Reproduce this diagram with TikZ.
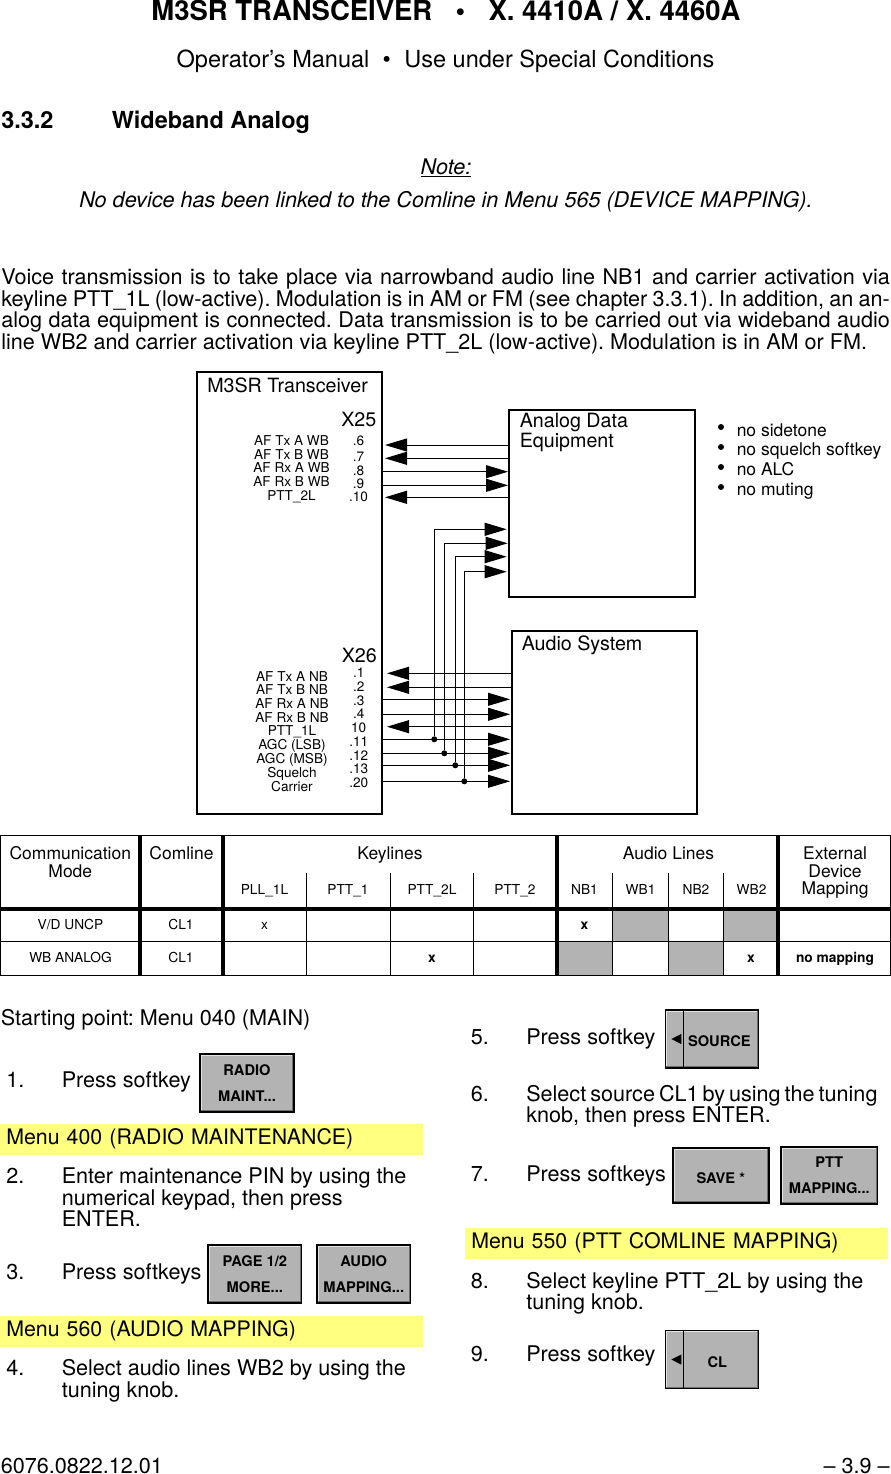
\documentclass[tikz,border=0pt]{standalone}
\usepackage{fontspec}
\setmainfont{TeX Gyre Heros}
\frenchspacing
\usetikzlibrary{arrows.meta}

\definecolor{cellgray}{HTML}{B3B3B3}
\definecolor{menuyellow}{HTML}{FFFF80}
\definecolor{bevellight}{HTML}{E4E4E4}
\definecolor{beveldark}{HTML}{6E6E6E}

\newcommand{\softbevel}{
  \draw[bevellight, line width=2.6pt]
    (path picture bounding box.south west) -- (path picture bounding box.north west)
    -- (path picture bounding box.north east);
  \draw[beveldark, line width=2.6pt]
    (path picture bounding box.north east) -- (path picture bounding box.south east)
    -- (path picture bounding box.south west);
}

\tikzset{
  txt/.style={anchor=base west, inner sep=0pt, font=\fontsize{16.2}{16.2}\selectfont},
  boxtxt/.style={txt, font=\fontsize{14.75}{14.75}\selectfont},
  bullettxt/.style={txt, font=\fontsize{13.1}{13.1}\selectfont},
  pintxt/.style={anchor=base, inner sep=0pt, font=\fontsize{10.2}{10.2}\selectfont},
  headcell/.style={anchor=base, inner sep=0pt, font=\fontsize{13.1}{13.1}\selectfont},
  cell/.style={anchor=base, inner sep=0pt, font=\fontsize{10.3}{10.3}\selectfont},
  boldcell/.style={cell, font=\bfseries\fontsize{10.3}{10.3}\selectfont},
  unit/.style={draw, line width=1.5pt, minimum width=139pt, inner sep=0pt},
  wire/.style={line width=.75pt},
  dot/.style={circle, fill, inner sep=0pt, minimum size=4.5pt},
  bulletdot/.style={circle, fill, inner sep=0pt, minimum size=4.5pt},
  menubar/.style={anchor=west, fill=menuyellow, inner sep=0pt, minimum height=23.2pt,
    text width=308pt, align=left, font=\fontsize{16}{16}\selectfont,
    minimum width=317pt, text depth=4pt},
  softkey/.style={draw=black, line width=1.1pt, fill=cellgray, inner sep=0pt,
    minimum width=70pt, minimum height=43.5pt, align=center,
    font=\bfseries\fontsize{11}{19.5}\selectfont,
    execute at begin node={\rule{0pt}{11.5pt}},
    path picture={\softbevel}},
  softarrow/.style={softkey, line width=.9pt,
    path picture={\softbevel
      \draw[black, line width=.8pt]
        ([xshift=13.5pt]path picture bounding box.north west)
        -- ([xshift=13.5pt]path picture bounding box.south west);
      \fill[black] ([xshift=4.5pt]path picture bounding box.west)
        -- ([xshift=12pt,yshift=3.8pt]path picture bounding box.west)
        -- ([xshift=12pt,yshift=-3.8pt]path picture bounding box.west) -- cycle;
    }},
}

\begin{document}
\begin{tikzpicture}[x=.75pt, y=-.75pt, >={Triangle[length=16.5pt,width=9.75pt]}]
\useasboundingbox (0,0) rectangle (891,1474);

% Page head
\node[anchor=base, inner sep=0pt, font=\bfseries\fontsize{20.6}{20.6}\selectfont] (title) at (446,20)
  {M3SR TRANSCEIVER\hspace{.85em}•\hspace{.85em}X. 4410A / X. 4460A};
\node[anchor=base, inner sep=0pt, font=\fontsize{17.65}{17.65}\selectfont] (subtitle) at (445.5,67)
  {Operator’s Manual\hspace{10pt}•\hspace{10pt}Use under Special Conditions};
\node[txt, font=\bfseries\fontsize{17.6}{17.6}\selectfont] (secnum) at (1,128) {3.3.2};
\node[txt, font=\bfseries\fontsize{17.6}{17.6}\selectfont] (sectitle) at (111.5,128) {Wideband Analog};
\node[anchor=base, inner sep=0pt, font=\itshape\fontsize{16.2}{16.2}\selectfont] (note) at (446,174) {\underline{Note:}};
\node[anchor=base, inner sep=0pt, font=\itshape\fontsize{16.2}{16.2}\selectfont] (notetext) at (446,207)
  {No device has been linked to the Comline in Menu 565 (DEVICE MAPPING).};

% Intro paragraph
\node[txt] (introa) at (1,284) {\makebox[666.5pt][s]{Voice transmission is to take place via narrowband audio line NB1 and carrier activation via}};
\node[txt] (introb) at (1,306) {\makebox[666.5pt][s]{keyline PTT\_1L (low-active). Modulation is in AM or FM (see chapter 3.3.1). In addition, an an-}};
\node[txt] (introc) at (1,327) {\makebox[666.5pt][s]{alog data equipment is connected. Data transmission is to be carried out via wideband audio}};
\node[txt] (introd) at (1,349) {line WB2 and carrier activation via keyline PTT\_2L (low-active). Modulation is in AM or FM.};

% Units of the block diagram
\node[unit, minimum height=331.5pt] (radio) at (289.2,593.2) {};
\node[unit, minimum width=139.5pt, minimum height=140pt] (ade) at (602,503.5) {};
\node[unit, minimum height=137.5pt] (audio) at (604.3,722.5) {};
\node[boxtxt] (radiolabel) at (207,392) {M3SR Transceiver};
\node[boxtxt] (adelabela) at (519.5,427) {Analog Data};
\node[boxtxt] (adelabelb) at (519.5,447) {Equipment};
\node[boxtxt] (audiolabel) at (521.5,650) {Audio System};
\node[boxtxt] (xa) at (341,426) {X25};
\node[boxtxt] (xb) at (341.5,662) {X26};

% Signals at X25
\node[pintxt] at (291.5,445) {AF Tx A WB};
\node[pintxt] at (291.5,459) {AF Tx B WB};
\node[pintxt] at (291.5,472) {AF Rx A WB};
\node[pintxt] at (291.5,486) {AF Rx B WB};
\node[pintxt] at (291.5,500) {PTT\_2L};
\node[pintxt] at (358.5,445) {.6};
\node[pintxt] at (358.5,461) {.7};
\node[pintxt] at (358.5,475) {.8};
\node[pintxt] at (358.5,488) {.9};
\node[pintxt] at (358.5,501) {.10};

% Signals at X26
\node[pintxt] at (292,681) {AF Tx A NB};
\node[pintxt] at (292,694) {AF Tx B NB};
\node[pintxt] at (292,708) {AF Rx A NB};
\node[pintxt] at (292,722) {AF Rx B NB};
\node[pintxt] at (292,735) {PTT\_1L};
\node[pintxt] at (292,749) {AGC (LSB)};
\node[pintxt] at (292,763) {AGC (MSB)};
\node[pintxt] at (292,777) {Squelch};
\node[pintxt] at (292,791) {Carrier};
\node[pintxt] at (358.7,677) {.1};
\node[pintxt] at (358.7,691) {.2};
\node[pintxt] at (358.7,705) {.3};
\node[pintxt] at (358.7,718) {.4};
\node[pintxt] at (358.7,732) {10};
\node[pintxt] at (358.7,746) {.11};
\node[pintxt] at (358.7,760) {.12};
\node[pintxt] at (358.7,773) {.13};
\node[pintxt] at (358.7,787) {.20};

% Wires between X25 and the data equipment
\coordinate (pa) at (385,445);   \coordinate (qa) at (509,445);
\coordinate (pb) at (385,458.3); \coordinate (qb) at (509,458.3);
\coordinate (pc) at (382,471.7); \coordinate (qc) at (508,471.7);
\coordinate (pd) at (382,485.3); \coordinate (qd) at (508,485.3);
\coordinate (pe) at (385,497.3); \coordinate (qe) at (509,497.3);
\draw[wire,->] (qa) -- (pa);
\draw[wire,->] (qb) -- (pb);
\draw[wire,->] (pc) -- (qc);
\draw[wire,->] (pd) -- (qd);
\draw[wire,->] (qe) -- (pe);

% Wires between X26 and the audio system
\coordinate (ra) at (387,673.3); \coordinate (sa) at (511,673.3);
\coordinate (rb) at (387,687.3); \coordinate (sb) at (511,687.3);
\coordinate (rc) at (381,699.3); \coordinate (sc) at (510,699.3);
\coordinate (rd) at (382,714.3); \coordinate (sd) at (510,714.3);
\coordinate (re) at (387,726.7); \coordinate (se) at (511,726.7);
\coordinate (rf) at (382,739.3); \coordinate (sf) at (510,739.3);
\coordinate (rg) at (382,753.3); \coordinate (sg) at (510,753.3);
\coordinate (rh) at (382,765.3); \coordinate (sh) at (510,765.3);
\coordinate (ri) at (382,781.3); \coordinate (si) at (510,781.3);
\draw[wire,->] (sa) -- (ra);
\draw[wire,->] (sb) -- (rb);
\draw[wire,->] (rc) -- (sc);
\draw[wire,->] (rd) -- (sd);
\draw[wire,->] (se) -- (re);
\draw[wire,->] (rf) -- (sf);
\draw[wire,->] (rg) -- (sg);
\draw[wire,->] (rh) -- (sh);
\draw[wire,->] (ri) -- (si);

% AGC, squelch and carrier also go up to the data equipment
\node[dot] (ja) at (434.3,739.3) {};
\node[dot] (jb) at (444.3,753.3) {};
\node[dot] (jc) at (455.3,765.3) {};
\node[dot] (jd) at (464.3,781.3) {};
\coordinate (ta) at (506.7,529.3);
\coordinate (tb) at (507.7,543.3);
\coordinate (tc) at (506.7,556.7);
\coordinate (td) at (506.7,571.7);
\draw[wire,->] (ja) |- (ta);
\draw[wire,->] (jb) |- (tb);
\draw[wire,->] (jc) |- (tc);
\draw[wire,->] (jd) |- (td);

% Notes beside the data equipment
\node[bulletdot] (ba) at (721,427) {};
\node[bulletdot] (bb) at (721,447) {};
\node[bulletdot] (bc) at (721,467) {};
\node[bulletdot] (bd) at (721,487) {};
\node[bullettxt] at (736.5,436) {no sidetone};
\node[bullettxt] at (736.5,455.5) {no squelch softkey};
\node[bullettxt] at (736.5,475) {no ALC};
\node[bullettxt] at (736.5,495) {no muting};

% Mapping table
\fill[cellgray] (612.7,909) rectangle (668.3,941.7);
\fill[cellgray] (723.3,909) rectangle (778.3,941.7);
\fill[cellgray] (556.7,941.7) rectangle (612.7,975);
\fill[cellgray] (668.3,941.7) rectangle (723.3,975);
\draw[wire] (.5,835.5) rectangle (890.5,975);
\draw[wire] (0,941.7) -- (891,941.7);
\draw[wire] (306.7,873) -- (306.7,975);
\draw[wire] (390.3,873) -- (390.3,975);
\draw[wire] (473.3,873) -- (473.3,975);
\draw[wire] (612.7,873) -- (612.7,975);
\draw[wire] (668.3,873) -- (668.3,975);
\draw[wire] (723.3,873) -- (723.3,975);
\draw[line width=2.8pt] (0,909) -- (891,909);
\draw[line width=3pt] (140,835) -- (140,975);
\draw[line width=3pt] (222.7,835) -- (222.7,975);
\draw[line width=3pt] (556.7,835) -- (556.7,975);
\draw[line width=3pt] (778.3,835) -- (778.3,975);

\node[headcell] at (70.3,859) {Communication};
\node[headcell] at (70.3,877) {Mode};
\node[headcell] at (181.5,859) {Comline};
\node[headcell] at (390,859) {Keylines};
\node[headcell] at (668.5,859) {Audio Lines};
\node[headcell] at (835,859) {External};
\node[headcell] at (835,877) {Device};
\node[headcell] at (835,894) {Mapping};
\node[cell] at (264.5,894) {PLL\_1L};
\node[cell] at (348,894) {PTT\_1};
\node[cell] at (432,894) {PTT\_2L};
\node[cell] at (515,894) {PTT\_2};
\node[cell] at (584.5,894) {NB1};
\node[cell] at (640.5,894) {WB1};
\node[cell] at (696,894) {NB2};
\node[cell] at (751.5,894) {WB2};
\node[cell] at (70.5,929) {V/D UNCP};
\node[cell] at (181,929) {CL1};
\node[cell] at (264.5,929) {x};
\node[boldcell] at (584.5,929) {x};
\node[cell] at (70.5,962) {WB ANALOG};
\node[cell] at (181,962) {CL1};
\node[boldcell] at (432,962) {x};
\node[boldcell] at (751,962) {x};
\node[boldcell] at (835,962) {no mapping};

% Left column of steps
\node[txt] at (.5,1025) {Starting point: Menu 040 (MAIN)};
\node[txt] at (6,1087) {1.};
\node[txt] at (61.5,1087) {Press softkey};
\node[softkey, minimum width=70.5pt] (radiomaint) at (247,1083) {RADIO\\MAINT...};
\node[menubar] (menua) at (0,1139.5) {Menu 400 (RADIO MAINTENANCE)};
\node[txt] at (6,1183) {2.};
\node[txt] at (61.5,1183) {Enter maintenance PIN by using the};
\node[txt] at (61.5,1205) {numerical keypad, then press};
\node[txt] at (61.5,1226) {ENTER.};
\node[txt] at (6,1279) {3.};
\node[txt] at (61.5,1279) {Press softkeys};
\node[softkey] (pagemore) at (254.8,1274) {PAGE 1/2\\MORE...};
\node[softkey] (audiomap) at (363.7,1274) {AUDIO\\MAPPING...};
\node[menubar] (menub) at (0,1331.5) {Menu 560 (AUDIO MAPPING)};
\node[txt] at (6,1375) {4.};
\node[txt] at (61.5,1375) {Select audio lines WB2 by using the};
\node[txt] at (61.5,1397) {tuning knob.};

% Right column of steps
\node[txt] at (470.5,1044) {5.};
\node[txt] at (526,1044) {Press softkey};
\node[softarrow] (source) at (712,1039) {\hspace*{11pt}SOURCE};
\node[txt] at (470.5,1101) {6.};
\node[txt] at (526,1101) {\makebox[263pt][s]{Select source CL1 by using the tuning}};
\node[txt] at (526,1122) {knob, then press ENTER.};
\node[txt] at (470.5,1181) {7.};
\node[txt] at (526,1181) {Press softkeys};
\node[softkey, minimum width=72pt, minimum height=41.5pt] (save) at (720.8,1175.5) {SAVE *};
\node[softkey, minimum width=72.5pt, minimum height=42.5pt] (pttmap) at (829.3,1175.5) {PTT\\MAPPING...};
\node[menubar] (menuc) at (465,1243.5) {Menu 550 (PTT COMLINE MAPPING)};
\node[txt] at (470.5,1288) {8.};
\node[txt] at (526,1288) {Select keyline PTT\_2L by using the};
\node[txt] at (526,1309) {tuning knob.};
\node[txt] at (470.5,1361) {9.};
\node[txt] at (526,1361) {Press softkey};
\node[softarrow] (cl) at (712,1359.5) {\hspace*{8pt}CL};

% Page foot
\node[txt] at (.5,1473) {6076.0822.12.01};
\node[txt, anchor=base east] at (890,1473) {– 3.9 –};

\end{tikzpicture}
\end{document}
